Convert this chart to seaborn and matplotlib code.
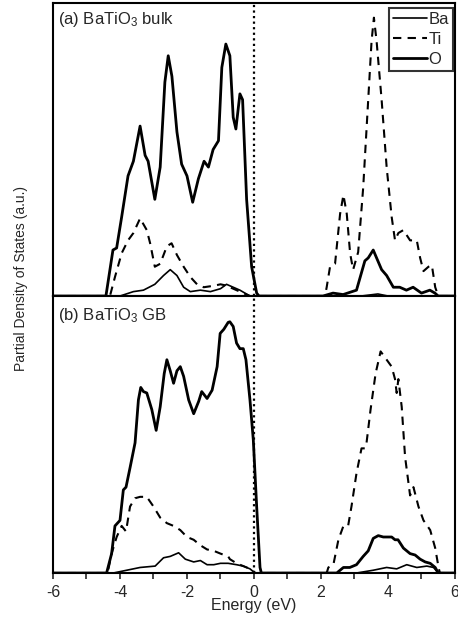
import numpy as np
import matplotlib
matplotlib.use("Agg")
import matplotlib.pyplot as plt
import seaborn as sns
from matplotlib.lines import Line2D

# ---------------- data (arbitrary units 0-1) ----------------
# panel (a) BaTiO3 bulk
bulk_o_e = [-6.0, -4.42, -4.21, -4.1, -3.95, -3.76, -3.6, -3.4, -3.25, -3.16, -2.96, -2.8, -2.66, -2.56,
            -2.45, -2.3, -2.16, -2.0, -1.83, -1.66, -1.49, -1.36, -1.22, -1.06, -0.96, -0.84, -0.72,
            -0.62, -0.54, -0.42, -0.34, -0.22, -0.07, 0.08, 0.15, 2.06, 2.36, 2.66, 3.06, 3.21, 3.31,
            3.41, 3.56, 3.66, 3.81, 3.96, 4.16, 4.35, 4.55, 4.75, 5.0, 5.25, 5.4, 5.5, 6.0]
bulk_o_v = [0.0, 0.0, 0.157, 0.164, 0.27, 0.41, 0.46, 0.58, 0.48, 0.46, 0.33, 0.44, 0.73, 0.82,
            0.75, 0.56, 0.45, 0.41, 0.32, 0.40, 0.46, 0.44, 0.50, 0.53, 0.78, 0.86, 0.82,
            0.61, 0.57, 0.69, 0.67, 0.33, 0.10, 0.01, 0.0, 0.0, 0.01, 0.005, 0.02, 0.08, 0.12,
            0.13, 0.157, 0.13, 0.09, 0.07, 0.03, 0.03, 0.02, 0.03, 0.01, 0.02, 0.01, 0.0, 0.0]

bulk_ti_e = [-6.0, -4.3, -4.15, -3.95, -3.76, -3.6, -3.4, -3.2, -3.1, -2.96, -2.8, -2.6, -2.46, -2.3,
             -2.1, -1.9, -1.7, -1.5, -1.2, -1.0, -0.8, -0.72, -0.52, -0.32, -0.12, 2.12, 2.17, 2.27,
             2.42, 2.57, 2.67, 2.77, 2.87, 2.96, 3.11, 3.26, 3.41, 3.51, 3.58, 3.66, 3.81, 3.96,
             4.11, 4.21, 4.31, 4.46, 4.66, 4.86, 4.96, 5.06, 5.21, 5.31, 5.41, 5.5, 6.0]
bulk_ti_v = [0.0, 0.0, 0.065, 0.146, 0.19, 0.215, 0.265, 0.225, 0.18, 0.10, 0.11, 0.17, 0.18, 0.14,
             0.10, 0.065, 0.04, 0.03, 0.035, 0.04, 0.035, 0.03, 0.02, 0.01, 0.0, 0.0, 0.03, 0.10,
             0.11, 0.28, 0.345, 0.28, 0.145, 0.09, 0.15, 0.37, 0.67, 0.87, 0.95, 0.87, 0.67, 0.44,
             0.27, 0.19, 0.215, 0.225, 0.19, 0.19, 0.13, 0.085, 0.10, 0.105, 0.03, 0.0, 0.0]

bulk_ba_e = [-6.0, -4.0, -3.6, -3.3, -2.96, -2.7, -2.5, -2.3, -2.1, -1.9, -1.6, -1.3, -1.0, -0.82,
             -0.62, -0.42, -0.12, 3.2, 3.7, 4.0, 6.0]
bulk_ba_v = [0.0, 0.0, 0.015, 0.02, 0.04, 0.07, 0.09, 0.07, 0.03, 0.015, 0.02, 0.015, 0.025, 0.04,
             0.03, 0.02, 0.0, 0.0, 0.007, 0.0, 0.0]

# panel (b) BaTiO3 GB
gb_o_e = [-6.0, -4.4, -4.25, -4.15, -4.0, -3.9, -3.82, -3.7, -3.55, -3.45, -3.38, -3.3, -3.2, -3.05,
          -2.92, -2.8, -2.68, -2.6, -2.5, -2.4, -2.3, -2.2, -2.1, -1.95, -1.8, -1.65, -1.56, -1.4,
          -1.25, -1.1, -1.01, -0.9, -0.77, -0.72, -0.62, -0.52, -0.42, -0.32, -0.24, -0.12, -0.02,
          0.08, 0.18, 0.22, 2.47, 2.67, 2.86, 3.06, 3.26, 3.41, 3.56, 3.71, 3.86, 4.01, 4.11, 4.21,
          4.3, 4.46, 4.66, 4.81, 4.96, 5.11, 5.26, 5.41, 5.5, 6.0]
gb_o_v = [0.0, 0.0, 0.07, 0.17, 0.19, 0.30, 0.31, 0.38, 0.47, 0.625, 0.67, 0.655, 0.65, 0.59,
          0.515, 0.60, 0.72, 0.77, 0.73, 0.685, 0.73, 0.745, 0.71, 0.625, 0.575, 0.62, 0.655, 0.63,
          0.66, 0.745, 0.865, 0.88, 0.905, 0.907, 0.89, 0.83, 0.81, 0.81, 0.77, 0.625, 0.48,
          0.24, 0.02, 0.0, 0.0, 0.02, 0.02, 0.03, 0.06, 0.08, 0.125, 0.135, 0.13, 0.13, 0.13, 0.12,
          0.12, 0.09, 0.07, 0.065, 0.05, 0.04, 0.035, 0.02, 0.0, 0.0]

gb_ti_e = [-6.0, -4.37, -4.25, -4.1, -3.95, -3.82, -3.7, -3.55, -3.4, -3.2, -3.0, -2.8, -2.6, -2.4,
           -2.2, -2.0, -1.8, -1.6, -1.4, -1.2, -1.0, -0.77, -0.72, -0.52, -0.32, -0.12, -0.02, 0.05,
           2.17, 2.22, 2.37, 2.52, 2.67, 2.81, 2.91, 3.06, 3.21, 3.31, 3.36, 3.48, 3.63, 3.78, 3.96,
           4.11, 4.21, 4.26, 4.31, 4.41, 4.51, 4.66, 4.76, 4.91, 5.06, 5.26, 5.41, 5.51, 5.55, 6.0]
gb_ti_v = [0.0, 0.0, 0.07, 0.13, 0.17, 0.15, 0.24, 0.27, 0.275, 0.275, 0.24, 0.20, 0.18, 0.17,
           0.155, 0.13, 0.12, 0.10, 0.085, 0.08, 0.07, 0.06, 0.05, 0.035, 0.025, 0.015, 0.005, 0.0,
           0.0, 0.02, 0.03, 0.12, 0.17, 0.17, 0.24, 0.36, 0.45, 0.45, 0.47, 0.59, 0.72, 0.80, 0.77,
           0.745, 0.70, 0.65, 0.70, 0.60, 0.42, 0.28, 0.31, 0.24, 0.19, 0.155, 0.09, 0.02, 0.0, 0.0]

gb_ba_e = [-6.0, -4.2, -3.8, -3.4, -2.95, -2.7, -2.5, -2.25, -2.05, -1.8, -1.6, -1.4, -1.2, -1.0,
           -0.77, -0.52, -0.32, -0.12, 0.03, 3.06, 3.56, 3.96, 4.26, 4.56, 4.86, 5.16, 5.36, 5.5, 6.0]
gb_ba_v = [0.0, 0.0, 0.01, 0.02, 0.025, 0.055, 0.06, 0.073, 0.05, 0.04, 0.045, 0.03, 0.03, 0.035,
           0.035, 0.03, 0.025, 0.015, 0.0, 0.0, 0.01, 0.02, 0.015, 0.03, 0.02, 0.025, 0.02, 0.0, 0.0]

panel_titles = ["(a) BaTiO$_3$ bulk", "(b) BaTiO$_3$ GB"]
legend_labels = ["Ba", "Ti", "O"]
xticks = [-6, -4, -2, 0, 2, 4, 6]

# ---------------- style ----------------
sns.set_style("ticks")
plt.rcParams["font.family"] = ["Liberation Sans", "DejaVu Sans"]
plt.rcParams["mathtext.fontset"] = "custom"
plt.rcParams["mathtext.rm"] = "Liberation Sans"
plt.rcParams["mathtext.default"] = "regular"
plt.rcParams["axes.unicode_minus"] = False

fig = plt.figure(figsize=(4.58, 6.18), dpi=100)
ax_a = fig.add_axes([0.1157, 0.521, 0.8777, 0.4741])
ax_b = fig.add_axes([0.1157, 0.0728, 0.8777, 0.4482])

ba_style = dict(color="black", linewidth=1.2)
ti_style = dict(color="black", linewidth=1.5, linestyle=(0, (4, 3)))
o_style = dict(color="black", linewidth=2.0)

panels = [
    (ax_a, (bulk_ba_e, bulk_ba_v), (bulk_ti_e, bulk_ti_v), (bulk_o_e, bulk_o_v)),
    (ax_b, (gb_ba_e, gb_ba_v), (gb_ti_e, gb_ti_v), (gb_o_e, gb_o_v)),
]

for i, (ax, ba, ti, o) in enumerate(panels):
    sns.lineplot(x=ba[0], y=ba[1], ax=ax, **ba_style)
    sns.lineplot(x=ti[0], y=ti[1], ax=ax, **ti_style)
    sns.lineplot(x=o[0], y=o[1], ax=ax, **o_style)
    ax.axvline(0, color="black", linewidth=1.6, linestyle=(0, (1, 1.5)))
    ax.set_xlim(-6, 6)
    ax.set_ylim(0, 1.0)
    ax.set_yticks([])
    ax.set_ylabel("")
    ax.set_xticks(xticks)
    ax.set_xticks(np.arange(-6, 7, 1), minor=True)
    ax.tick_params(axis="x", which="both", direction="out", length=4, width=1.2,
                   labelsize=11.5, pad=4.5)
    for sp in ax.spines.values():
        sp.set_linewidth(1.5)
        sp.set_color("black")
    ax.text(0.012, 0.975 if i == 0 else 0.965, panel_titles[i], transform=ax.transAxes,
            ha="left", va="top", fontsize=12)

ax_a.tick_params(axis="x", labelbottom=False)
ax_b.set_xlabel("Energy (eV)", fontsize=11.5, labelpad=-1.5)

handles = [Line2D([], [], **ba_style), Line2D([], [], **ti_style), Line2D([], [], **o_style)]
leg = ax_a.legend(handles, legend_labels, loc="upper right", bbox_to_anchor=(0.995, 0.983),
                  frameon=True, fancybox=False, fontsize=12, handlelength=2.0,
                  handletextpad=0.1, borderpad=0.25, borderaxespad=0.0, labelspacing=0.3)
leg.get_frame().set_edgecolor("black")
leg.get_frame().set_linewidth(1.5)

fig.text(0.046, 0.549, "Partial Density of States (a.u.)", rotation=90,
         ha="center", va="center", fontsize=10)

fig.savefig("out.png", dpi=100)
